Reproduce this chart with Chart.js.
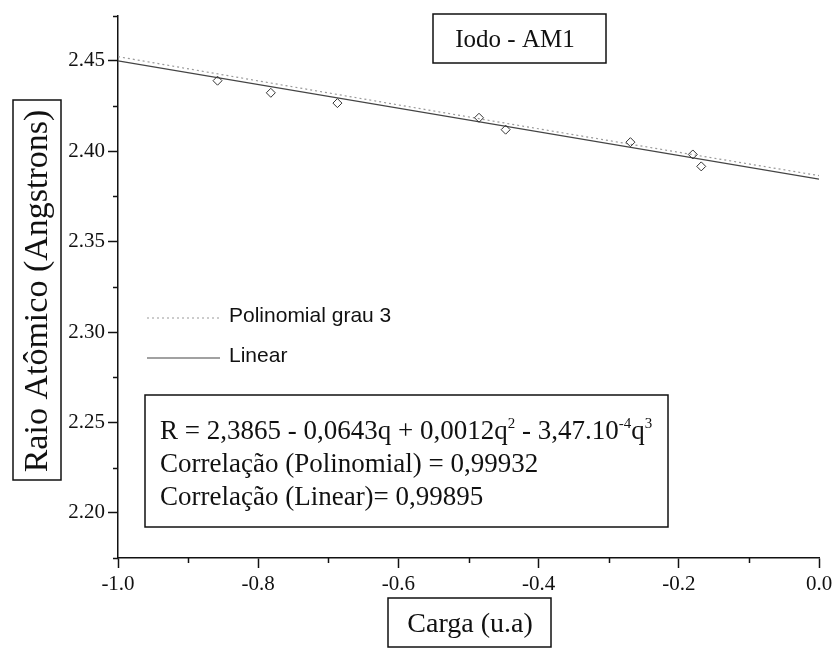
<!DOCTYPE html>
<html>
<head>
<meta charset="utf-8">
<script src="https://cdn.jsdelivr.net/npm/chart.js@4"></script>
<style>
  html, body { margin: 0; padding: 0; background: #fff; }
  #wrap { width: 837px; height: 649px; position: relative; }
  canvas { display: block; }
</style>
</head>
<body>
<div id="wrap"><canvas id="c" width="837" height="649"></canvas></div>
<script>
// Iodo - AM1: atomic radius versus charge, with cubic and linear fits
const charges = [-0.858, -0.782, -0.687, -0.485, -0.447, -0.269, -0.180, -0.168];
const radii   = [2.4390, 2.4323, 2.4266, 2.4185, 2.4119, 2.4050, 2.3982, 2.3916];

// cubic fit curve (values along the dotted line)
const polyCharges = [-1.0, -0.8, -0.6, -0.4, -0.2, 0.0];
const polyRadii   = [2.4523, 2.4389, 2.4256, 2.4124, 2.3994, 2.3865];

// linear fit line
const linCharges = [-1.0, 0.0];
const linRadii   = [2.4500, 2.3845];

const xTickValues = [-1.0, -0.8, -0.6, -0.4, -0.2, 0.0];
const xTickLabels = ['-1.0', '-0.8', '-0.6', '-0.4', '-0.2', '0.0'];
const xMinorTicks = [-0.9, -0.7, -0.5, -0.3, -0.1];
const yTickValues = [2.20, 2.25, 2.30, 2.35, 2.40, 2.45];
const yTickLabels = ['2.20', '2.25', '2.30', '2.35', '2.40', '2.45'];
const yMinorTicks = [2.175, 2.225, 2.275, 2.325, 2.375, 2.425, 2.475];

const chartTitle = 'Iodo - AM1';
const xTitle = 'Carga (u.a)';
const yTitle = 'Raio Atômico (Angstrons)';
const legendLabels = ['Polinomial grau 3', 'Linear'];
const equationParts = [
  { t: 'R = 2,3865 - 0,0643q + 0,0012q' }, { t: '2', sup: true },
  { t: ' - 3,47.10' }, { t: '-4', sup: true }, { t: 'q' }, { t: '3', sup: true }
];
const noteLines = ['Correlação (Polinomial) = 0,99932', 'Correlação (Linear)= 0,99895'];

const INK = '#111';
const SERIF = '"Liberation Serif", "Times New Roman", serif';
const SANS = '"Liberation Sans", Arial, sans-serif';

const toXY = (xs, ys) => xs.map((x, i) => ({ x: x, y: ys[i] }));

function box(ctx, x0, y0, x1, y1) {
  ctx.save();
  ctx.strokeStyle = INK;
  ctx.lineWidth = 1.5;
  ctx.strokeRect(x0, y0, x1 - x0, y1 - y0);
  ctx.restore();
}

const decorations = {
  id: 'decorations',
  beforeDraw(chart) {
    const ctx = chart.ctx;
    ctx.save();
    ctx.fillStyle = '#fff';
    ctx.fillRect(0, 0, chart.width, chart.height);
    ctx.restore();
  },
  afterDraw(chart) {
    const ctx = chart.ctx;
    const xs = chart.scales.x, ys = chart.scales.y;
    const area = chart.chartArea;
    ctx.save();
    ctx.strokeStyle = INK;
    ctx.lineWidth = 1.5;
    // minor ticks
    xMinorTicks.forEach(v => {
      const px = Math.round(xs.getPixelForValue(v)) + 0.5;
      ctx.beginPath(); ctx.moveTo(px, area.bottom); ctx.lineTo(px, area.bottom + 5); ctx.stroke();
    });
    yMinorTicks.forEach(v => {
      const py = Math.round(ys.getPixelForValue(v)) + 0.5;
      ctx.beginPath(); ctx.moveTo(area.left, py); ctx.lineTo(area.left - 5, py); ctx.stroke();
    });

    ctx.fillStyle = INK;
    // chart title
    box(ctx, 433, 14, 606, 63);
    ctx.font = '25px ' + SERIF;
    ctx.textAlign = 'center';
    ctx.textBaseline = 'middle';
    ctx.fillText(chartTitle, 515, 40);

    // x axis title
    box(ctx, 388, 598, 551, 647);
    ctx.font = '28px ' + SERIF;
    ctx.fillText(xTitle, 470, 625);

    // y axis title
    box(ctx, 13, 100, 61, 480);
    ctx.save();
    ctx.translate(38, 291);
    ctx.rotate(-Math.PI / 2);
    ctx.font = '34px ' + SERIF;
    ctx.fillText(yTitle, 0, 0);
    ctx.restore();

    // legend
    const legendY = [318, 358];
    const styles = [
      { color: '#9a9a9a', dash: [2, 3] },
      { color: '#444', dash: [] }
    ];
    legendLabels.forEach((lab, i) => {
      ctx.save();
      ctx.strokeStyle = styles[i].color;
      ctx.setLineDash(styles[i].dash);
      ctx.lineWidth = 1.2;
      ctx.beginPath(); ctx.moveTo(147, legendY[i]); ctx.lineTo(220, legendY[i]); ctx.stroke();
      ctx.restore();
      ctx.font = '21px ' + SANS;
      ctx.textAlign = 'left';
      ctx.textBaseline = 'middle';
      ctx.fillText(lab, 229, legendY[i] - 2);
    });

    // fit equation and correlations
    box(ctx, 145, 395, 668, 527);
    ctx.textAlign = 'left';
    ctx.textBaseline = 'alphabetic';
    let x = 160;
    equationParts.forEach(p => {
      ctx.font = (p.sup ? '15px ' : '27px ') + SERIF;
      ctx.fillText(p.t, x, p.sup ? 428 : 439);
      x += ctx.measureText(p.t).width;
    });
    ctx.font = '27px ' + SERIF;
    noteLines.forEach((t, i) => ctx.fillText(t, 160, 472 + i * 33));
    ctx.restore();
  }
};

new Chart(document.getElementById('c'), {
  type: 'scatter',
  data: {
    datasets: [
      {
        label: 'Raio',
        data: toXY(charges, radii),
        showLine: false,
        pointStyle: 'rectRot',
        pointRadius: 4.5,
        pointBorderWidth: 1,
        borderColor: '#333',
        backgroundColor: 'rgba(255,255,255,0)'
      },
      {
        label: legendLabels[0],
        data: toXY(polyCharges, polyRadii),
        showLine: true,
        pointRadius: 0,
        borderColor: '#9a9a9a',
        borderDash: [2, 3],
        borderWidth: 1.2,
        cubicInterpolationMode: 'monotone'
      },
      {
        label: legendLabels[1],
        data: toXY(linCharges, linRadii),
        showLine: true,
        pointRadius: 0,
        borderColor: '#444',
        borderWidth: 1.2
      }
    ]
  },
  options: {
    responsive: false,
    animation: false,
    devicePixelRatio: 1,
    layout: { padding: { top: 15, right: 18, left: 0, bottom: 0 } },
    plugins: { legend: { display: false }, tooltip: { enabled: false } },
    scales: {
      x: {
        type: 'linear',
        min: -1.0,
        max: 0.0,
        afterBuildTicks: s => { s.ticks = xTickValues.map(v => ({ value: v })); },
        afterFit: s => { s.height = 91; },
        ticks: {
          autoSkip: false,
          maxRotation: 0,
          padding: 4,
          color: INK,
          font: { family: SERIF, size: 21 },
          callback: (v, i) => xTickLabels[i]
        },
        grid: { drawOnChartArea: false, drawTicks: true, tickLength: 10, tickColor: INK, tickWidth: 1.5 },
        border: { display: true, color: INK, width: 1.5 }
      },
      y: {
        type: 'linear',
        min: 2.175,
        max: 2.475,
        afterBuildTicks: s => { s.ticks = yTickValues.map(v => ({ value: v })); },
        afterFit: s => { s.width = 118; },
        ticks: {
          autoSkip: false,
          padding: 3,
          color: INK,
          font: { family: SERIF, size: 21 },
          callback: (v, i) => yTickLabels[i]
        },
        grid: { drawOnChartArea: false, drawTicks: true, tickLength: 10, tickColor: INK, tickWidth: 1.5 },
        border: { display: true, color: INK, width: 1.5 }
      }
    }
  },
  plugins: [decorations]
});
</script>
</body>
</html>
